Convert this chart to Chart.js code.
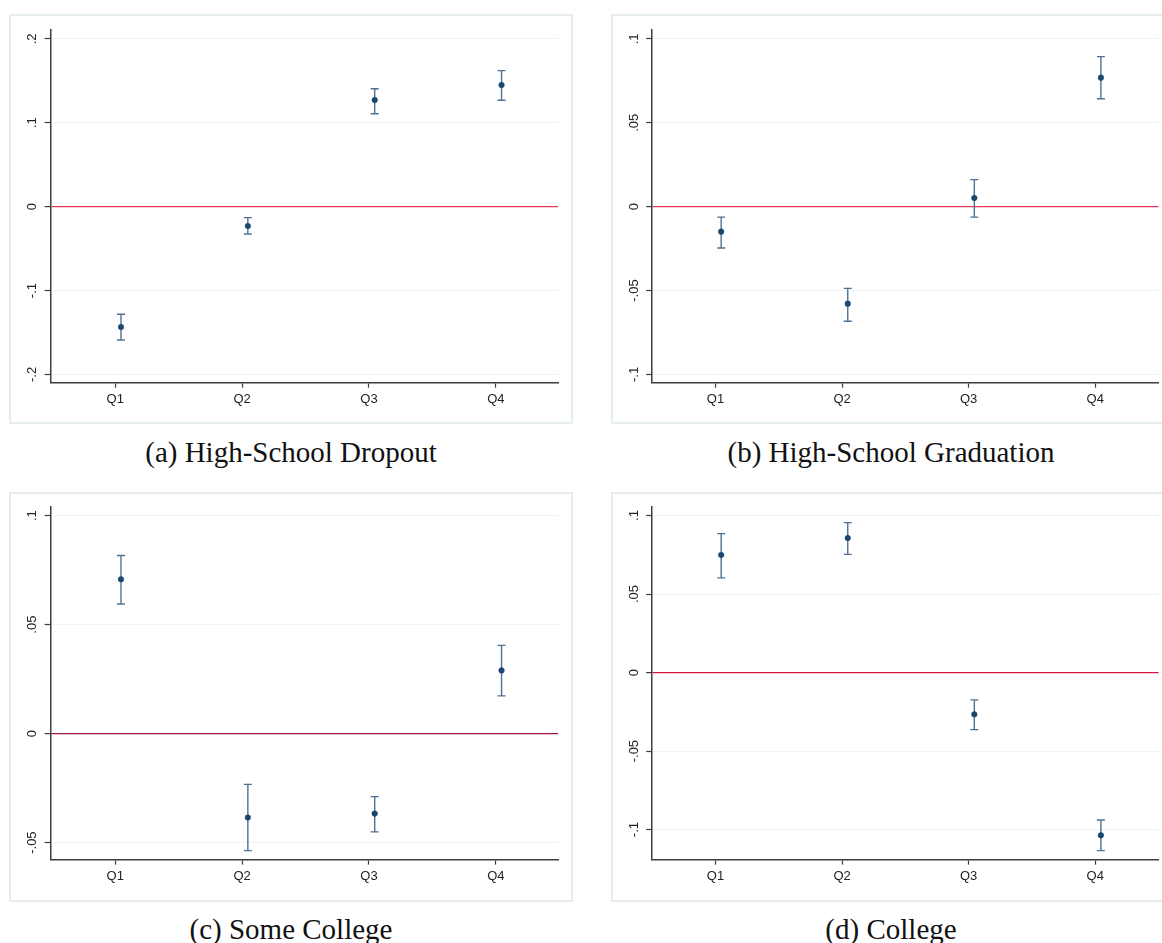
<!DOCTYPE html>
<html>
<head>
<meta charset="utf-8">
<script src="https://cdn.jsdelivr.net/npm/chart.js@4.4.1/dist/chart.umd.min.js"></script>
<style>
  html, body { margin: 0; padding: 0; background: #fff; overflow: hidden; width: 1162px; height: 943px; }
  .panel { position: absolute; }
  .cap { position: absolute; width: 600px; text-align: center; white-space: nowrap;
         font-family: "Liberation Serif", "Times New Roman", serif; font-size: 29px; line-height: 29px; color: #111; }
</style>
</head>
<body>
<div class="panel" id="pa"><canvas id="chartA" width="564" height="410"></canvas></div>
<div class="panel" id="pb"><canvas id="chartB" width="564" height="410"></canvas></div>
<div class="panel" id="pc"><canvas id="chartC" width="564" height="410"></canvas></div>
<div class="panel" id="pd"><canvas id="chartD" width="564" height="410"></canvas></div>
<div class="cap" style="left:-9px;top:438px">(a) High-School Dropout</div>
<div class="cap" style="left:591px;top:438px">(b) High-School Graduation</div>
<div class="cap" style="left:-9px;top:915px">(c) Some College</div>
<div class="cap" style="left:591px;top:915px">(d) College</div>

<script>
"use strict";

// Quartile categories (x axis)
const quartiles = ['Q1', 'Q2', 'Q3', 'Q4'];

// (a) High-School Dropout: point estimate and CI bounds
const dropoutEst = [-0.1434, -0.0230, 0.1271, 0.1450];
const dropoutLo  = [-0.1589, -0.0326, 0.1108, 0.1268];
const dropoutHi  = [-0.1283, -0.0131, 0.1406, 0.1621];

// (b) High-School Graduation
const gradEst = [-0.0149, -0.0578, 0.0052, 0.0769];
const gradLo  = [-0.0246, -0.0683, -0.0062, 0.0643];
const gradHi  = [-0.0062, -0.0487, 0.0161, 0.0894];

// (c) Some College
const someEst = [0.0708, -0.0385, -0.0367, 0.0290];
const someLo  = [0.0595, -0.0537, -0.0451, 0.0173];
const someHi  = [0.0817, -0.0233, -0.0289, 0.0405];

// (d) College
const collegeEst = [0.0749, 0.0857, -0.0266, -0.1036];
const collegeLo  = [0.0603, 0.0753, -0.0363, -0.1134];
const collegeHi  = [0.0885, 0.0955, -0.0174, -0.0939];

// y ticks and their Stata-style labels
const ticksA = [-0.2, -0.1, 0, 0.1, 0.2];
const labelsA = ['-.2', '-.1', '0', '.1', '.2'];
const ticksB = [-0.1, -0.05, 0, 0.05, 0.1];
const labelsB = ['-.1', '-.05', '0', '.05', '.1'];
const ticksC = [-0.05, 0, 0.05, 0.1];
const labelsC = ['-.05', '0', '.05', '.1'];
const ticksD = [-0.1, -0.05, 0, 0.05, 0.1];
const labelsD = ['-.1', '-.05', '0', '.05', '.1'];

const X_SHIFT = 0.045;   // markers sit slightly right of the tick
const NAVY = '#1a476f';
const BAR = '#4f7194';
const GRID = '#edf3f4';
const AXIS = '#3d3d3d';
const TEXT = '#222';
const SANS = '"Liberation Sans", Arial, sans-serif';

// light frame around each graph
const frame = {
    id: 'frame',
    beforeDraw(chart) {
        const ctx = chart.ctx;
        ctx.save();
        ctx.strokeStyle = '#e6edf0';
        ctx.lineWidth = 2;
        ctx.strokeRect(1, 1, chart.width - 2, chart.height - 2);
        ctx.restore();
    }
};

// capped confidence intervals
const errorBars = {
    id: 'errorBars',
    beforeDatasetsDraw(chart, args, opts) {
        const { ctx, scales: { x, y } } = chart;
        ctx.save();
        ctx.strokeStyle = BAR;
        ctx.lineWidth = 1.4;
        opts.lo.forEach((lo, i) => {
            const px = x.getPixelForValue(i + 1 + X_SHIFT);
            const p1 = y.getPixelForValue(lo);
            const p2 = y.getPixelForValue(opts.hi[i]);
            ctx.beginPath();
            ctx.moveTo(px, p1); ctx.lineTo(px, p2);
            ctx.moveTo(px - 4, p1); ctx.lineTo(px + 4, p1);
            ctx.moveTo(px - 4, p2); ctx.lineTo(px + 4, p2);
            ctx.stroke();
        });
        ctx.restore();
    }
};

// vertical (rotated) y tick labels, Stata style
const yLabels = {
    id: 'yLabels',
    afterDraw(chart, args, opts) {
        const { ctx, scales: { y } } = chart;
        ctx.save();
        ctx.fillStyle = TEXT;
        ctx.font = '13px ' + SANS;
        ctx.textAlign = 'center';
        ctx.textBaseline = 'middle';
        y.ticks.forEach((t, i) => {
            ctx.save();
            ctx.translate(y.right - 18, y.getPixelForValue(t.value));
            ctx.rotate(-Math.PI / 2);
            ctx.fillText(opts.labels[i], 0, 0);
            ctx.restore();
        });
        ctx.restore();
    }
};

function makePanel(cfg) {
    const host = document.getElementById(cfg.host);
    host.style.left = cfg.left + 'px';
    host.style.top = cfg.top + 'px';
    const W = 564, H = 410;

    new Chart(document.getElementById(cfg.canvas), {
        type: 'scatter',
        data: {
            datasets: [{
                data: cfg.est.map((v, i) => ({ x: i + 1 + X_SHIFT, y: v })),
                pointRadius: 2.8,
                pointBackgroundColor: NAVY,
                pointBorderColor: NAVY,
                pointBorderWidth: 0.5
            }]
        },
        options: {
            responsive: false,
            animation: false,
            events: [],
            layout: { padding: { left: 0, top: cfg.area.top, right: W - cfg.area.right, bottom: 0 } },
            scales: {
                x: {
                    type: 'linear',
                    min: cfg.xMin,
                    max: cfg.xMin + 4,
                    afterBuildTicks: s => { s.ticks = quartiles.map((q, i) => ({ value: i + 1 })); },
                    afterFit: s => { s.height = H - cfg.area.bottom; },
                    ticks: {
                        callback: (v, i) => quartiles[i],
                        font: { family: SANS, size: 13 },
                        color: TEXT,
                        padding: 4,
                        maxRotation: 0
                    },
                    grid: { drawOnChartArea: false, tickLength: 5, tickColor: AXIS, tickWidth: 1.2 },
                    border: { color: AXIS, width: 1.5 }
                },
                y: {
                    type: 'linear',
                    min: cfg.yMin,
                    max: cfg.yMax,
                    afterBuildTicks: s => { s.ticks = cfg.yTicks.map(v => ({ value: v })); },
                    afterFit: s => { s.width = cfg.area.left; },
                    ticks: { display: false },
                    grid: {
                        color: c => (c.tick && Math.abs(c.tick.value) < 1e-9) ? cfg.zeroColor : GRID,
                        lineWidth: c => (c.tick && Math.abs(c.tick.value) < 1e-9) ? 1.2 : 1,
                        tickLength: 6,
                        tickColor: AXIS,
                        tickWidth: 1.2
                    },
                    border: { color: AXIS, width: 1.5 }
                }
            },
            plugins: {
                legend: { display: false },
                tooltip: { enabled: false },
                errorBars: { lo: cfg.lo, hi: cfg.hi },
                yLabels: { labels: cfg.yLabels }
            }
        },
        plugins: [frame, errorBars, yLabels]
    });
}

makePanel({
    host: 'pa', canvas: 'chartA', left: 9, top: 14,
    area: { left: 41.6, top: 15.3, right: 549, bottom: 368.7 },
    xMin: 0.49, yMin: -0.2098, yMax: 0.2114,
    yTicks: ticksA, yLabels: labelsA, zeroColor: '#e23a57',
    est: dropoutEst, lo: dropoutLo, hi: dropoutHi
});

makePanel({
    host: 'pb', canvas: 'chartB', left: 610.5, top: 14,
    area: { left: 41.2, top: 15.3, right: 547.5, bottom: 368.7 },
    xMin: 0.5, yMin: -0.1049, yMax: 0.1057,
    yTicks: ticksB, yLabels: labelsB, zeroColor: '#e23a57',
    est: gradEst, lo: gradLo, hi: gradHi
});

makePanel({
    host: 'pc', canvas: 'chartC', left: 9, top: 491.7,
    area: { left: 41.6, top: 14.3, right: 549, bottom: 367.6 },
    xMin: 0.49, yMin: -0.0578, yMax: 0.1043,
    yTicks: ticksC, yLabels: labelsC, zeroColor: '#99173c',
    est: someEst, lo: someLo, hi: someHi
});

makePanel({
    host: 'pd', canvas: 'chartD', left: 610.5, top: 491.7,
    area: { left: 41.2, top: 14.3, right: 547.5, bottom: 367.6 },
    xMin: 0.5, yMin: -0.1191, yMax: 0.1059,
    yTicks: ticksD, yLabels: labelsD, zeroColor: '#d8143c',
    est: collegeEst, lo: collegeLo, hi: collegeHi
});
</script>
</body>
</html>
